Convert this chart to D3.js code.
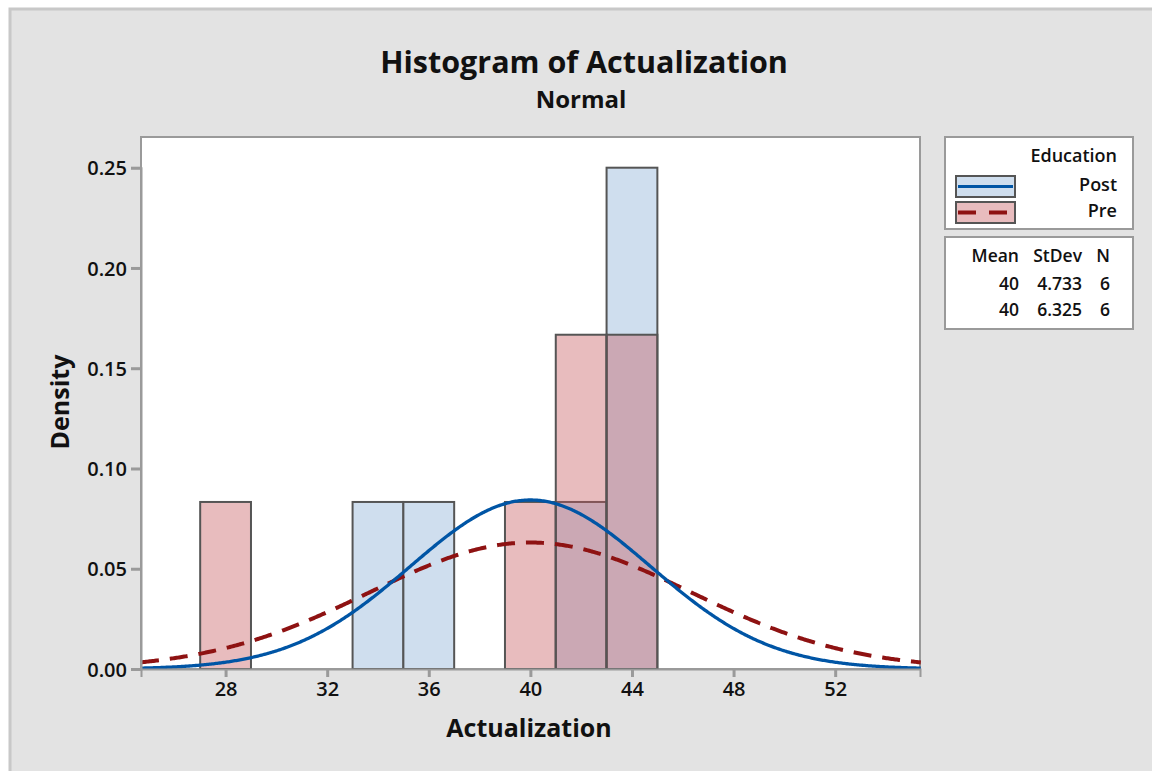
<!DOCTYPE html>
<html>
<head>
<meta charset="utf-8">
<script src="https://cdn.jsdelivr.net/npm/d3@7"></script>
<style>
  body { margin: 0; background: #fff; }
  text { font-family: "Open Sans", "Noto Sans", sans-serif; fill: #111; }
</style>
</head>
<body>
<svg id="chart" width="1152" height="771"></svg>
<script>
// bins are 2 wide, given by their left edge
const binWidth = 2;
const postBins = [33, 35, 41, 43];
const postDensity = [0.0833, 0.0833, 0.0833, 0.25];
const preBins = [27, 39, 41, 43];
const preDensity = [0.0833, 0.0833, 0.1667, 0.1667];

const groups = ["Post", "Pre"];
const means = [40, 40];
const stdevs = [4.733, 6.325];
const counts = [6, 6];

const xTicks = [28, 32, 36, 40, 44, 48, 52];
const yTicks = [0, 0.05, 0.10, 0.15, 0.20, 0.25];

const svg = d3.select("#chart");

// frame of the whole graph
svg.append("rect")
    .attr("x", 10).attr("y", 9)
    .attr("width", 1160).attr("height", 780)
    .attr("fill", "#e3e3e3")
    .attr("stroke", "#c8c8c8")
    .attr("stroke-width", 3);

const plot = {left: 141, right: 920, top: 137, bottom: 669};

const x = d3.scaleLinear().domain([24.67, 55.34]).range([plot.left, plot.right]);
const y = d3.scaleLinear().domain([0, 0.25]).range([plot.bottom, 167.7]);

svg.append("rect")
    .attr("x", plot.left).attr("y", plot.top)
    .attr("width", plot.right - plot.left).attr("height", plot.bottom - plot.top)
    .attr("fill", "#fff")
    .attr("stroke", "#9a9a9a")
    .attr("stroke-width", 2);

// titles
svg.append("text")
    .attr("x", 584).attr("y", 73)
    .attr("text-anchor", "middle")
    .attr("font-size", 30.5).attr("font-weight", 700)
    .text("Histogram of Actualization");
svg.append("text")
    .attr("x", 581).attr("y", 108)
    .attr("text-anchor", "middle")
    .attr("font-size", 24).attr("font-weight", 700)
    .text("Normal");

// bars: post first, pre laid over it with transparency
const barGroup = svg.append("g");
barGroup.selectAll(".post")
    .data(postBins.map((b, i) => ({start: b, d: postDensity[i]})))
    .join("rect")
    .attr("class", "post")
    .attr("x", d => x(d.start))
    .attr("y", d => y(d.d))
    .attr("width", d => x(d.start + binWidth) - x(d.start))
    .attr("height", d => y(0) - y(d.d))
    .attr("fill", "#cfdeee")
    .attr("stroke", "#555")
    .attr("stroke-width", 2);

const preBars = barGroup.selectAll(".pre")
    .data(preBins.map((b, i) => ({start: b, d: preDensity[i]})))
    .join("g")
    .attr("class", "pre");
preBars.append("rect")
    .attr("x", d => x(d.start))
    .attr("y", d => y(d.d))
    .attr("width", d => x(d.start + binWidth) - x(d.start))
    .attr("height", d => y(0) - y(d.d))
    .attr("fill", "rgb(197,88,92)")
    .attr("fill-opacity", 0.4);
preBars.append("rect")
    .attr("x", d => x(d.start))
    .attr("y", d => y(d.d))
    .attr("width", d => x(d.start + binWidth) - x(d.start))
    .attr("height", d => y(0) - y(d.d))
    .attr("fill", "none")
    .attr("stroke", "#555")
    .attr("stroke-width", 2);

// fitted normal curves from the mean / stdev in the legend
function normalPdf(v, mu, sd){
    return Math.exp(-0.5 * ((v - mu) / sd) ** 2) / (sd * Math.sqrt(2 * Math.PI));
}
const xs = d3.range(x.domain()[0], x.domain()[1] + 0.05, 0.05);
const line = d3.line().x(d => x(d[0])).y(d => y(d[1]));

svg.append("path")
    .datum(xs.map(v => [v, normalPdf(v, means[1], stdevs[1])]))
    .attr("d", line)
    .attr("fill", "none")
    .attr("stroke", "#8e1212")
    .attr("stroke-width", 4)
    .attr("stroke-dasharray", "18 11");
svg.append("path")
    .datum(xs.map(v => [v, normalPdf(v, means[0], stdevs[0])]))
    .attr("d", line)
    .attr("fill", "none")
    .attr("stroke", "#0055a5")
    .attr("stroke-width", 3.3);

// axes
const xAxis = svg.append("g")
    .attr("transform", "translate(0," + plot.bottom + ")")
    .call(d3.axisBottom(x).tickValues(xTicks).tickSize(8).tickPadding(5).tickFormat(d3.format("d")));
const yAxis = svg.append("g")
    .attr("transform", "translate(" + plot.left + ",0)")
    .call(d3.axisLeft(y).tickValues(yTicks).tickSize(10).tickPadding(4).tickFormat(d3.format(".2f")));
[xAxis, yAxis].forEach(function(axis){
    axis.select(".domain").attr("stroke", "#9a9a9a").attr("stroke-width", 2);
    axis.selectAll(".tick line").attr("stroke", "#9a9a9a").attr("stroke-width", 3);
    axis.selectAll(".tick text")
        .attr("font-size", 20).attr("font-weight", 600)
        .attr("font-family", "'Open Sans', 'Noto Sans', sans-serif")
        .attr("fill", "#111");
});
yAxis.selectAll(".tick text").attr("dy", "0.36em");

svg.append("text")
    .attr("x", 529).attr("y", 737)
    .attr("text-anchor", "middle")
    .attr("font-size", 25).attr("font-weight", 700)
    .text("Actualization");
svg.append("text")
    .attr("transform", "translate(69,402) rotate(-90)")
    .attr("text-anchor", "middle")
    .attr("font-size", 25).attr("font-weight", 700)
    .text("Density");

// legend
const legend = svg.append("g");
legend.append("rect")
    .attr("x", 945).attr("y", 137).attr("width", 188).attr("height", 92)
    .attr("fill", "#fff").attr("stroke", "#9a9a9a").attr("stroke-width", 2);
legend.append("text")
    .attr("x", 1117).attr("y", 162)
    .attr("text-anchor", "end")
    .attr("font-size", 18).attr("font-weight", 600)
    .text("Education");

const swatchFill = ["#cfdeee", "#e8bcbe"];
const swatchStroke = ["#0055a5", "#8e1212"];
const swatchDash = [null, "18 13"];
groups.forEach(function(g, i){
    const top = 176 + i * 26;
    legend.append("rect")
        .attr("x", 956).attr("y", top).attr("width", 59).attr("height", 21)
        .attr("fill", swatchFill[i]).attr("stroke", "#555").attr("stroke-width", 2);
    legend.append("line")
        .attr("x1", 958).attr("x2", 1013)
        .attr("y1", top + 10.5).attr("y2", top + 10.5)
        .attr("stroke", swatchStroke[i]).attr("stroke-width", i === 0 ? 3 : 4)
        .attr("stroke-dasharray", swatchDash[i]);
    legend.append("text")
        .attr("x", 1117).attr("y", top + 15)
        .attr("text-anchor", "end")
        .attr("font-size", 18).attr("font-weight", 600)
        .text(g);
});

legend.append("rect")
    .attr("x", 945).attr("y", 237).attr("width", 188).attr("height", 92)
    .attr("fill", "#fff").attr("stroke", "#9a9a9a").attr("stroke-width", 2);
const colRight = [1019, 1082, 1110];
["Mean", "StDev", "N"].forEach(function(h, j){
    legend.append("text")
        .attr("x", colRight[j]).attr("y", 262)
        .attr("text-anchor", "end")
        .attr("font-size", 17.5).attr("font-weight", 600)
        .text(h);
});
groups.forEach(function(g, i){
    const row = [d3.format("d")(means[i]), d3.format(".3f")(stdevs[i]), counts[i]];
    row.forEach(function(v, j){
        legend.append("text")
            .attr("x", colRight[j]).attr("y", 290 + i * 26)
            .attr("text-anchor", "end")
            .attr("font-size", 17.5).attr("font-weight", 600)
            .text(v);
    });
});
</script>
</body>
</html>
